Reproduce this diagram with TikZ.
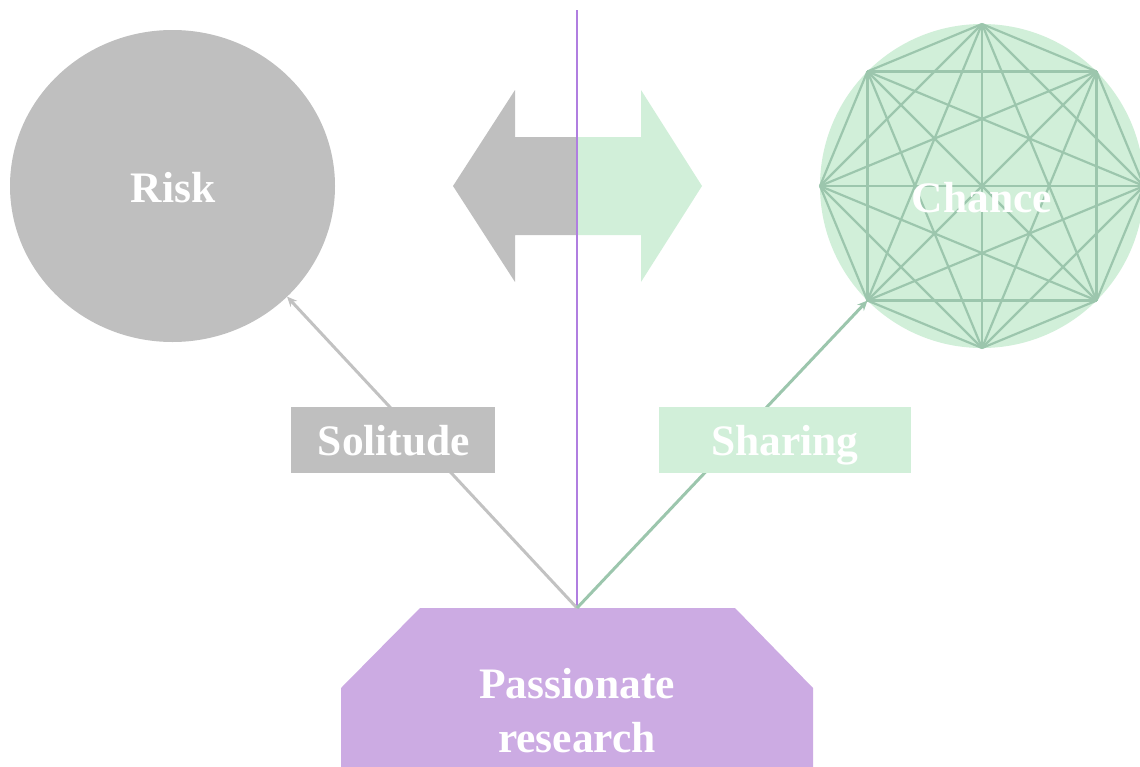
\documentclass[tikz,border=0pt]{standalone}
\usepackage{fontspec}
\setmainfont{Liberation Serif}
\usetikzlibrary{shapes.geometric,arrows.meta}
\definecolor{riskgray}{HTML}{BFBFBF}
\definecolor{linkgray}{HTML}{C2C2C2}
\definecolor{mint}{HTML}{D1EFD9}
\definecolor{mintline}{HTML}{9CC6AD}
\definecolor{lilac}{HTML}{CCABE3}
\definecolor{axiscol}{HTML}{B07EE0}
\begin{document}
\begin{tikzpicture}[x=1pt,y=-1pt,
  lbl/.style={text=white,font=\bfseries\fontsize{43.5}{54}\selectfont,inner sep=0pt,anchor=base},
  labelbox/.style={draw=none,inner sep=0pt,outer sep=0pt,minimum height=66pt},
  link/.style={line width=3pt,-{Stealth[length=10pt,width=9pt]}},
  starline/.style={draw=mintline,line width=2.2pt},
  axisline/.style={draw=axiscol,line width=2.4pt},
]
\useasboundingbox (0,0) rectangle (1140,766);

% the two outcomes
\node[ellipse,fill=riskgray,minimum width=325pt,minimum height=312pt,inner sep=0pt,outer sep=0pt] (risk) at (172.5,186) {};
\node[circle,fill=mint,minimum size=324pt,inner sep=0pt,outer sep=0pt] (chance) at (982,186) {};

% star pattern: every vertex of the octagon joined to every other
\foreach \k in {0,...,7}{\pgfmathtruncatemacro\ang{45*\k}\coordinate (v\k) at (chance.\ang);}
\foreach \a in {0,...,6}{%
  \pgfmathtruncatemacro\s{\a+1}%
  \foreach \b in {\s,...,7}{\draw[starline] (v\a) -- (v\b);}}

% double arrow, split at the axis
\fill[riskgray] (577,137) -- (515,137) -- (515,90) -- (453,186) -- (515,282) -- (515,235) -- (577,235) -- cycle;
\fill[mint] (577,137) -- (641,137) -- (641,90) -- (702,186) -- (641,282) -- (641,235) -- (577,235) -- cycle;

% base shape
\fill[lilac] (420,608) -- (735,608) -- (813,688) -- (813,770) -- (341,770) -- (341,688) -- cycle;
\coordinate (src) at (577,608);
\coordinate (top) at (577,10);

% axis
\draw[axisline] (top) -- (src);

% links
\draw[link,draw=linkgray] (src) -- (risk.-44);
\draw[link,draw=mintline] (src) -- (v5);

% label boxes
\node[labelbox,fill=riskgray,minimum width=204pt] (solbox) at (393,440) {};
\node[labelbox,fill=mint,minimum width=252pt] (sharebox) at (785,440) {};

% texts
\node[lbl] (risktext) at (173,202) {Risk};
\node[lbl] (chancetext) at (982,212) {Chance};
\node[lbl] (soltext) at (394,455) {Solitude};
\node[lbl] (sharetext) at (785,455) {Sharing};
\node[lbl,align=center] (basetext) at (577,752) {Passionate\\research};
\end{tikzpicture}
\end{document}
